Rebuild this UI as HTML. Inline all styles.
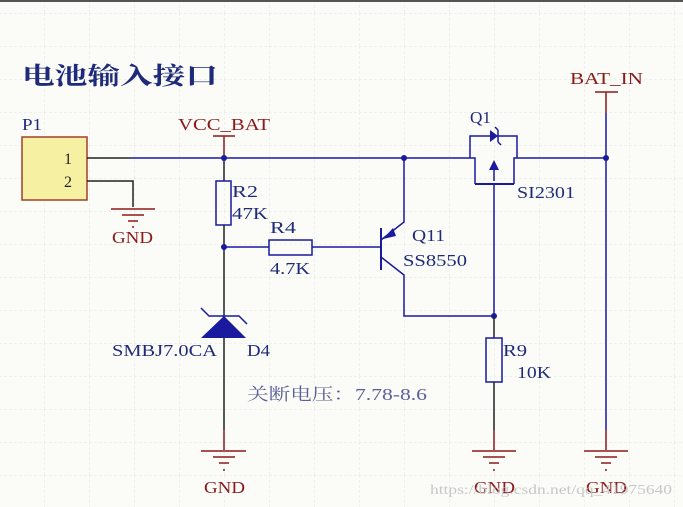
<!DOCTYPE html>
<html><head><meta charset="utf-8"><style>
html,body{margin:0;padding:0;background:#fbfbf7;}
svg{display:block}
text{font-family:"Liberation Serif","Noto Serif CJK SC",serif;}
</style></head><body>
<svg width="683" height="507" viewBox="0 0 683 507" xmlns="http://www.w3.org/2000/svg">
<defs>
<pattern id="g" width="45" height="33" patternUnits="userSpaceOnUse" x="-1" y="13">
<path d="M0 0H45M0 0V33" stroke="#e6e6e0" stroke-width="1" stroke-dasharray="3 2" fill="none"/>
</pattern>
</defs>
<rect width="683" height="507" fill="#fbfbf7"/>
<rect width="683" height="507" fill="url(#g)"/>
<rect x="0" y="0" width="683" height="2" fill="#555"/>

<text x="22" y="84" font-size="24" fill="#1e2a7a" font-weight="bold" textLength="196" lengthAdjust="spacingAndGlyphs">电池输入接口</text>

<!-- P1 -->
<text x="22" y="130" font-size="17" fill="#1e2a7a" textLength="20" lengthAdjust="spacingAndGlyphs">P1</text>
<rect x="22" y="137" width="65" height="63" fill="#f6f0a2" stroke="#a0402a" stroke-width="1.5"/>
<text x="64" y="164" font-size="16" fill="#222">1</text>
<text x="64" y="187" font-size="16" fill="#222">2</text>
<g stroke-width="1.5" fill="none">
<path d="M87 158H130" stroke="#222"/>
<path d="M130 158H470" stroke="#1a1aa0"/>
<path d="M517 158H605" stroke="#1a1aa0"/>
<path d="M87 181H133V207" stroke="#222"/>
</g>
<g stroke="#8b1a1a" stroke-width="1.5">
<path d="M111 209H155M122 215H144M128 221H138M132 227H134"/>
</g>
<text x="112" y="243" font-size="17" fill="#8b1a1a" textLength="41" lengthAdjust="spacingAndGlyphs">GND</text>

<!-- VCC_BAT -->
<text x="178" y="130" font-size="17" fill="#8b1a1a" textLength="92" lengthAdjust="spacingAndGlyphs">VCC_BAT</text>
<path d="M213 136H235M224 136V157" stroke="#8b1a1a" stroke-width="1.5"/>

<g stroke-width="1.5" fill="none">
<path d="M224 158V181" stroke="#222"/>
<rect x="216" y="181" width="15" height="44" stroke="#1a1aa0"/>
<path d="M224 225V316" stroke="#222"/>
<path d="M224 338V430" stroke="#222"/>
<path d="M224 430V450" stroke="#8b1a1a"/>
<path d="M224 247H269" stroke="#1a1aa0"/>
<rect x="269" y="240" width="43" height="15" stroke="#1a1aa0"/>
<path d="M312 247H381" stroke="#1a1aa0"/>
</g>
<text x="232" y="197" font-size="17" fill="#1e2a7a" textLength="26" lengthAdjust="spacingAndGlyphs">R2</text>
<text x="232" y="219" font-size="17" fill="#1e2a7a" textLength="36" lengthAdjust="spacingAndGlyphs">47K</text>
<text x="270" y="233" font-size="17" fill="#1e2a7a" textLength="26" lengthAdjust="spacingAndGlyphs">R4</text>
<text x="270" y="274" font-size="17" fill="#1e2a7a" textLength="40" lengthAdjust="spacingAndGlyphs">4.7K</text>

<polygon points="201,338 246,338 224,316" fill="#1a1aa0"/>
<path d="M201 308L209 316H239L247 324" stroke="#1a1aa0" stroke-width="1.5" fill="none"/>
<text x="112" y="356" font-size="17" fill="#1e2a7a" textLength="105" lengthAdjust="spacingAndGlyphs">SMBJ7.0CA</text>
<text x="247" y="356" font-size="17" fill="#1e2a7a" textLength="23" lengthAdjust="spacingAndGlyphs">D4</text>
<text x="247" y="400" font-size="17" fill="#5a5f9a" textLength="180" lengthAdjust="spacingAndGlyphs">关断电压：7.78-8.6</text>

<g stroke="#8b1a1a" stroke-width="1.5">
<path d="M201 451H246M213 457H235M219 463H229M223 470H225"/>
</g>
<text x="204" y="493" font-size="17" fill="#8b1a1a" textLength="41" lengthAdjust="spacingAndGlyphs">GND</text>

<!-- Q11 -->
<g stroke-width="1.5" fill="none" stroke="#1a1aa0">
<path d="M381 228V270" stroke-width="2"/>
<path d="M381 240L404 222V158"/>
<path d="M381 257L404 275V316H494"/>
</g>
<polygon points="383,239 393,228 396,236" fill="#1a1aa0"/>
<circle cx="404" cy="158" r="3" fill="#1a1aa0"/>
<circle cx="224" cy="158" r="3" fill="#1a1aa0"/>
<circle cx="224" cy="247" r="3" fill="#1a1aa0"/>
<text x="412" y="241" font-size="17" fill="#1e2a7a" textLength="33" lengthAdjust="spacingAndGlyphs">Q11</text>
<text x="403" y="266" font-size="17" fill="#1e2a7a" textLength="64" lengthAdjust="spacingAndGlyphs">SS8550</text>

<!-- Q1 mosfet -->
<g stroke-width="1.5" fill="none" stroke="#1a1aa0">
<path d="M470 158V136H517V158"/>
<path d="M470 158H475V184M517 158H514V184"/>
<path d="M475 184H514" stroke-width="2"/>
<path d="M494 168V181"/>
<path d="M494 184V316"/>
</g>
<polygon points="498,136 490,130 490,142" fill="#1a1aa0"/>
<path d="M498 130V142M498 142L501 145M498 130L495 127" stroke="#1a1aa0" stroke-width="1.5" fill="none"/>
<polygon points="494,160 489,170 499,170" fill="#1a1aa0"/>
<text x="470" y="123" font-size="17" fill="#1e2a7a" textLength="21" lengthAdjust="spacingAndGlyphs">Q1</text>
<text x="517" y="198" font-size="17" fill="#1e2a7a" textLength="58" lengthAdjust="spacingAndGlyphs">SI2301</text>

<!-- R9 -->
<circle cx="494" cy="316" r="3" fill="#1a1aa0"/>
<g stroke-width="1.5" fill="none">
<path d="M494 316V338" stroke="#222"/>
<rect x="486" y="338" width="16" height="44" stroke="#1a1aa0"/>
<path d="M494 382V430" stroke="#222"/>
<path d="M494 430V450" stroke="#8b1a1a"/>
</g>
<text x="503" y="356" font-size="17" fill="#1e2a7a" textLength="24" lengthAdjust="spacingAndGlyphs">R9</text>
<text x="517" y="378" font-size="17" fill="#1e2a7a" textLength="34" lengthAdjust="spacingAndGlyphs">10K</text>
<g stroke="#8b1a1a" stroke-width="1.5">
<path d="M472 451H516M483 457H505M489 463H499M493 470H495"/>
</g>
<text x="474" y="493" font-size="17" fill="#8b1a1a" textLength="41" lengthAdjust="spacingAndGlyphs">GND</text>

<!-- BAT_IN -->
<text x="570" y="84" font-size="17" fill="#8b1a1a" textLength="73" lengthAdjust="spacingAndGlyphs">BAT_IN</text>
<path d="M595 92H618M606 92V113" stroke="#8b1a1a" stroke-width="1.5"/>
<path d="M606 113V430" stroke="#1a1aa0" stroke-width="1.5"/>
<path d="M606 430V450" stroke="#8b1a1a" stroke-width="1.5"/>
<circle cx="606" cy="158" r="3" fill="#1a1aa0"/>
<g stroke="#8b1a1a" stroke-width="1.5">
<path d="M584 451H628M595 457H617M601 463H611M605 470H607"/>
</g>
<text x="586" y="493" font-size="17" fill="#8b1a1a" textLength="41" lengthAdjust="spacingAndGlyphs">GND</text>

<text x="430" y="494" font-size="14" fill="#c8c8c8" font-family="Liberation Sans,sans-serif" textLength="242" lengthAdjust="spacingAndGlyphs">https://blog.csdn.net/qq_41975640</text>
</svg>
</body></html>
